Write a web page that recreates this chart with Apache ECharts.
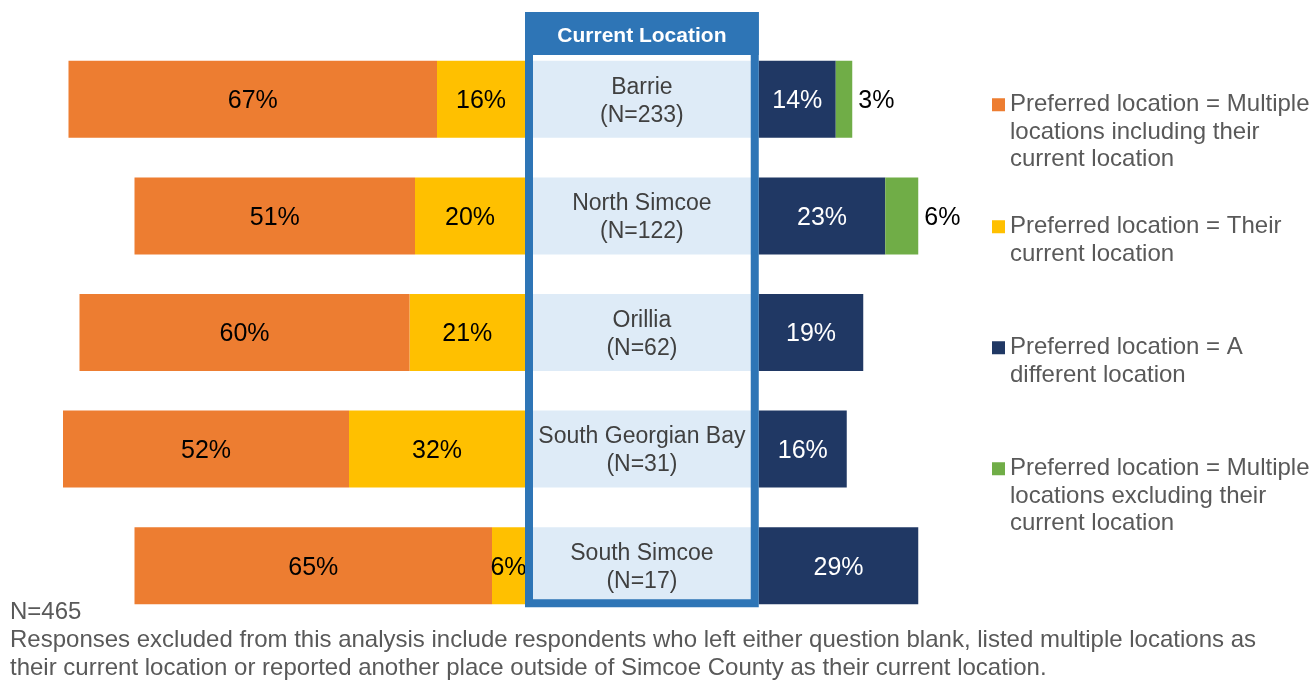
<!DOCTYPE html>
<html>
<head>
<meta charset="utf-8">
<script src="https://cdn.jsdelivr.net/npm/echarts@6/dist/echarts.min.js"></script>
<style>
	html, body { margin: 0; padding: 0; background: #fff; }
	#chart { width: 1310px; height: 681px; }
</style>
</head>
<body>
<div id="chart"></div>
<script>
// data
const locations = ["Barrie", "North Simcoe", "Orillia", "South Georgian Bay", "South Simcoe"];
const sampleSizes = [233, 122, 62, 31, 17];
const multiIncl = [67, 51, 60, 52, 65];   // orange
const theirCurrent = [16, 20, 21, 32, 6]; // yellow
const different = [14, 23, 19, 16, 29];   // navy
const multiExcl = [3, 6, 0, 0, 0];        // green
const totalN = 465;

const CENTER = 42.5; // width of the "Current Location" column, in axis units
const FONT = "'Liberation Sans', Arial, sans-serif";

const names = [
	"Preferred location = Multiple locations including their current location",
	"Preferred location = Their current location",
	"Preferred location = A different location",
	"Preferred location = Multiple locations excluding their current location",
];
const wrapped = {};
wrapped[names[0]] = "Preferred location = Multiple\nlocations including their\ncurrent location";
wrapped[names[1]] = "Preferred location = Their\ncurrent location";
wrapped[names[2]] = "Preferred location = A\ndifferent location";
wrapped[names[3]] = "Preferred location = Multiple\nlocations excluding their\ncurrent location";

const LH = 27.5;
// one legend per item so the spacing can follow the picture
const legendTops = [91, 213, 334, 455];
const legendLines = [3, 2, 2, 3];

// square icon sitting on the first text line: the tiny dots stretch the
// path's box to the full text height
function iconPath(lines) {
	const h = lines * LH;
	const top = LH / 2 - 6.5;
	return "path://M0,0h0.01v0.01h-0.01z M0," + top + "h13v13h-13z M0," + (h - 0.01) + "h0.01v0.01h-0.01z";
}

let myChart = echarts.init(document.getElementById("chart"));

const pctLabel = (color) => ({
	show: true,
	position: "inside",
	color: color,
	fontSize: 25,
	fontFamily: FONT,
	offset: [0, 2],
	formatter: (p) => (p.value === 0 ? "" : Math.abs(p.value) + "%"),
});

let option = {
	animation: false,
	grid: { left: 30, right: 290, top: 41, bottom: 57 },
	xAxis: { type: "value", min: -90, max: 90, show: false },
	yAxis: {
		type: "category",
		data: locations,
		inverse: true,
		show: false,
	},
	legend: names.map((n, i) => ({
		data: [{ name: n, icon: iconPath(legendLines[i]) }],
		left: 992,
		top: legendTops[i],
		padding: 0,
		itemWidth: 13,
		itemHeight: legendLines[i] * LH,
		itemGap: 5,
		selectedMode: false,
		formatter: (name) => wrapped[name],
		textStyle: {
			color: "#595959",
			fontSize: 24,
			fontFamily: FONT,
			lineHeight: LH,
		},
	})),
	title: {
		left: 10,
		top: 598,
		padding: 0,
		text:
			"N=" + totalN +
			"\nResponses excluded from this analysis include respondents who left either question blank, listed multiple locations as" +
			"\ntheir current location or reported another place outside of Simcoe County as their current location.",
		textStyle: {
			color: "#595959",
			fontSize: 24,
			fontWeight: "normal",
			fontFamily: FONT,
			lineHeight: 28,
		},
	},
	series: [
		{
			name: names[1],
			type: "bar",
			stack: "total",
			barWidth: 77,
			data: theirCurrent.map((v) => -v),
			itemStyle: { color: "#FFC000" },
			label: pctLabel("#000"),
		},
		{
			name: names[0],
			type: "bar",
			stack: "total",
			data: multiIncl.map((v) => -v),
			itemStyle: { color: "#ED7D31" },
			label: pctLabel("#000"),
		},
		{
			name: "center",
			type: "bar",
			stack: "total",
			silent: true,
			data: locations.map(() => CENTER),
			itemStyle: { color: "#DEEBF7" },
			label: {
				show: true,
				position: "inside",
				color: "#404040",
				fontSize: 23,
				lineHeight: 28,
				fontFamily: FONT,
				offset: [0, 2],
				formatter: (p) => p.name + "\n(N=" + sampleSizes[p.dataIndex] + ")",
			},
		},
		{
			name: names[2],
			type: "bar",
			stack: "total",
			data: different,
			itemStyle: { color: "#203864" },
			label: pctLabel("#fff"),
		},
		{
			name: names[3],
			type: "bar",
			stack: "total",
			data: multiExcl,
			itemStyle: { color: "#70AD47" },
			label: Object.assign(pctLabel("#000"), { position: "right", distance: 6 }),
		},
	],
};
myChart.setOption(option);

// frame round the centre column, placed from the chart's own scales
const x0 = myChart.convertToPixel({ gridIndex: 0 }, [0, locations[0]])[0];
const x1 = myChart.convertToPixel({ gridIndex: 0 }, [CENTER, locations[0]])[0];
const yLast = myChart.convertToPixel({ yAxisIndex: 0 }, locations[locations.length - 1]);
const boxTop = 12;
const boxBottom = yLast + 77 / 2 + 3;
const bw = 8;
myChart.setOption({
	graphic: [
		{
			type: "rect",
			z: 100,
			silent: true,
			shape: { x: x0 + bw / 2, y: boxTop + bw / 2, width: x1 - x0 - bw, height: boxBottom - boxTop - bw },
			style: { fill: null, stroke: "#2E75B6", lineWidth: bw },
		},
		{
			type: "rect",
			z: 101,
			silent: true,
			shape: { x: x0, y: boxTop, width: x1 - x0, height: 43 },
			style: { fill: "#2E75B6" },
		},
		{
			type: "text",
			z: 102,
			silent: true,
			x: (x0 + x1) / 2,
			y: boxTop + 24,
			style: {
				text: "Current Location",
				fill: "#fff",
				font: "bold 21px " + FONT,
				align: "center",
				verticalAlign: "middle",
			},
		},
	],
});
</script>
</body>
</html>
